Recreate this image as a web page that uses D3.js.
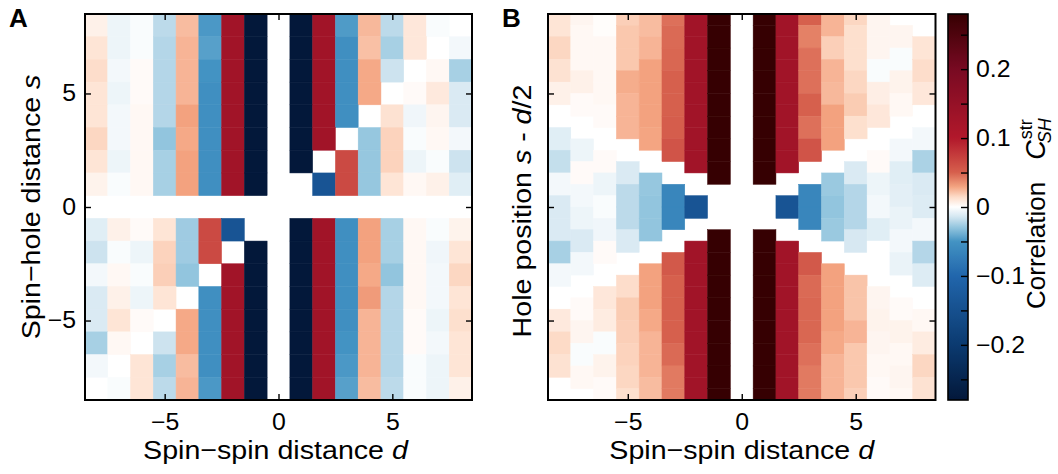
<!DOCTYPE html>
<html><head><meta charset="utf-8">
<script src="https://cdn.jsdelivr.net/npm/d3@7"></script>
<style>
body{margin:0;background:#fff}
svg{display:block}
text{font-family:"Liberation Sans",Arial,Helvetica,sans-serif;fill:#000}
</style>
</head><body>
<svg id="c" width="1058" height="474"></svg>
<script>
// ---------------- data ----------------
const dValues = d3.range(-8, 9);            // spin-spin distance d (columns)
const sValuesA = d3.range(8, -9, -1);       // spin-hole distance s (rows, top to bottom)
const axisTicks = [-5, 0, 5];
const cbarMajor = [-0.2, -0.1, 0, 0.1, 0.2];
const cbarMinor = [-0.25, -0.15, -0.05, 0.05, 0.15, 0.25];
const cbarRange = [-0.28, 0.28];

// Panel A: rows s = 8 .. -8, columns d = -8 .. 8 (null = not defined)
const corrA = [
 [0.006,-0.006,-0.002,-0.02,0.023,-0.048,0.13,-0.3,null,-0.3,0.13,-0.047,0.024,-0.02,0.01,-0.002,null],
 [0.011,-0.006,-0.002,-0.022,0.025,-0.045,0.13,-0.3,null,-0.3,0.13,-0.055,0.022,-0.025,0.01,null,-0.004],
 [0.014,-0.004,0.002,-0.022,0.025,-0.05,0.13,-0.3,null,-0.3,0.13,-0.055,0.028,-0.016,null,0.003,-0.025],
 [0.011,-0.006,0.002,-0.022,0.025,-0.055,0.13,-0.3,null,-0.3,0.13,-0.055,0.028,null,0.002,0.009,-0.012],
 [0.011,-0.004,0.003,-0.022,0.03,-0.055,0.13,-0.3,null,-0.3,0.13,-0.055,null,0.012,-0.005,0.004,-0.012],
 [0.016,-0.004,0.003,-0.03,0.028,-0.055,0.13,-0.3,null,-0.3,0.13,null,-0.029,0.017,-0.002,0.003,-0.004],
 [0.011,-0.006,0.003,-0.025,0.03,-0.055,0.13,-0.3,null,-0.3,null,0.065,-0.029,0.017,-0.006,-0.002,-0.016],
 [0.005,-0.002,0.003,-0.025,0.03,-0.055,0.13,-0.3,null,null,-0.14,0.065,-0.029,0.011,0.003,0.006,-0.01],
 [null,null,null,null,null,null,null,null,null,null,null,null,null,null,null,null,null],
 [-0.01,0.006,0.002,0.011,-0.027,0.065,-0.14,null,null,-0.3,0.13,-0.055,0.03,-0.025,0.003,-0.002,0.005],
 [-0.016,-0.002,-0.006,0.017,-0.027,0.065,null,-0.3,null,-0.3,0.13,-0.055,0.03,-0.025,0.003,-0.005,0.011],
 [-0.004,0.003,-0.002,0.018,-0.03,null,0.13,-0.3,null,-0.3,0.13,-0.055,0.028,-0.03,0.003,-0.004,0.016],
 [-0.012,0.006,-0.006,0.011,null,-0.055,0.13,-0.3,null,-0.3,0.13,-0.055,0.032,-0.022,0.003,-0.004,0.011],
 [-0.012,0.011,0.002,null,0.028,-0.055,0.13,-0.3,null,-0.3,0.13,-0.055,0.025,-0.022,0.002,-0.006,0.013],
 [-0.025,0.003,null,-0.016,0.028,-0.055,0.13,-0.3,null,-0.3,0.13,-0.05,0.025,-0.022,0.002,-0.004,0.011],
 [-0.004,null,0.011,-0.025,0.023,-0.055,0.13,-0.3,null,-0.3,0.13,-0.048,0.025,-0.022,-0.002,-0.006,0.011],
 [null,-0.002,0.011,-0.02,0.025,-0.048,0.13,-0.3,null,-0.3,0.13,-0.045,0.023,-0.02,-0.002,-0.006,0.006]
];

// Panel B: one list per column d = -8 .. 8, values from top to bottom.
// even d: hole position s - d/2 = 8, 7, ..., -8 ; odd d: 8.5, 7.5, ..., -8.5
const corrB = [
 [0.011,0.016,0.012,0.006,null,-0.01,-0.018,-0.004,-0.012,-0.012,-0.025,-0.004,null,0.009,0.015,0.012,null],
 [0.004,0.003,0.003,0.006,0.002,null,-0.006,0.002,-0.004,-0.006,-0.012,-0.004,null,0.002,0.004,-0.002,0.003,null],
 [0.001,0.003,0.003,0.003,0.002,null,0.002,-0.006,-0.002,-0.005,0.002,null,0.01,0.008,-0.002,0.005,0.002],
 [0.018,0.02,0.02,0.027,0.025,0.025,null,-0.012,-0.02,-0.02,-0.012,null,0.014,0.019,0.018,0.017,0.016,0.013],
 [0.023,0.025,0.03,0.03,0.03,0.029,null,-0.029,-0.03,-0.03,null,0.03,0.03,0.028,0.025,0.025,0.023],
 [0.045,0.047,0.048,0.05,0.05,0.052,0.058,null,-0.065,-0.065,null,0.055,0.05,0.05,0.05,0.047,0.042,0.042],
 [0.13,0.13,0.13,0.13,0.13,0.13,0.13,null,-0.14,null,0.13,0.13,0.13,0.13,0.13,0.13,0.13],
 [0.3,0.3,0.3,0.3,0.3,0.3,0.3,0.3,null,null,0.3,0.3,0.3,0.3,0.3,0.3,0.3,0.3],
 [null,null,null,null,null,null,null,null,null,null,null,null,null,null,null,null,null],
 [0.3,0.3,0.3,0.3,0.3,0.3,0.3,0.3,null,null,0.3,0.3,0.3,0.3,0.3,0.3,0.3,0.3],
 [0.13,0.13,0.13,0.13,0.13,0.13,0.13,null,-0.14,null,0.13,0.13,0.13,0.13,0.13,0.13,0.13],
 [0.05,0.04,0.045,0.045,0.05,0.045,0.058,null,-0.065,-0.065,null,0.055,0.047,0.048,0.048,0.045,0.042,0.042],
 [0.025,0.018,0.025,0.024,0.03,0.03,null,-0.028,-0.03,-0.028,null,0.03,0.03,0.03,0.028,0.025,0.025],
 [0.016,0.013,0.013,0.016,0.019,0.013,null,-0.012,-0.022,-0.022,-0.013,null,0.021,0.021,0.025,0.02,0.02,0.018],
 [0.004,0.004,-0.002,0.007,0.01,null,0.002,-0.006,-0.004,-0.01,0.0,null,0.004,0.005,0.004,0.003,0.002],
 [null,0.004,-0.002,0.005,0.003,null,-0.004,-0.01,-0.009,-0.007,-0.004,-0.007,null,0.002,0.005,0.003,0.004,0.003],
 [null,0.011,0.014,0.01,null,-0.004,-0.024,-0.012,-0.011,-0.004,-0.022,-0.011,null,0.003,0.008,0.016,0.012]
];

// colour map (diverging red-blue, saturating at the colour-bar ends)
const colorDomain = [-0.28,-0.2,-0.1,-0.05,-0.03,-0.015,0,0.015,0.029,0.05,0.1,0.2,0.28];
const colorRange  = ["#03183a","#0b3a70","#2166ac","#4393c3","#92c5de","#d1e5f0","#ffffff",
                     "#fddbc7","#f4a582","#d6604d","#b2182b","#780a22","#360002"];

// ---------------- drawing ----------------
const svg = d3.select("#c");
const color = d3.scaleLinear().domain(colorDomain).range(colorRange)
  .interpolate(d3.interpolateRgb).clamp(true);

const PA = {left: 85, right: 472, top: 14, bottom: 400};
const PB = {left: 548, right: 935.5, top: 14, bottom: 400};
const CB = {left: 948, right: 968, top: 14, bottom: 400};
const TEXT_K = 1.08;

const fmt = v => (v < 0 ? "\u2212" : "") + Math.abs(v);
const fmtC = v => v === 0 ? "0" : (v < 0 ? "\u2212" : "") + Math.abs(v).toFixed(1);

function stretch(sel, k) {
  sel.each(function () {
    const L = this.getComputedTextLength();
    if (L > 0) d3.select(this).attr("textLength", L * k).attr("lengthAdjust", "spacingAndGlyphs");
  });
}

function styleAxis(g) {
  g.select(".domain").remove();
  g.selectAll(".tick line").attr("stroke", "#000").attr("stroke-width", 1.4);
  g.selectAll(".tick text").attr("fill", "#000").style("font-size", "23px")
    .style("font-family", '"Liberation Sans",Arial,sans-serif');
  g.attr("font-family", null).attr("font-size", null);
  stretch(g.selectAll(".tick text"), TEXT_K);
}

function frame(P, x, y, showY) {
  const g = svg.append("g");
  g.append("g").attr("transform", `translate(0,${P.bottom})`)
    .call(d3.axisBottom(x).tickValues(axisTicks).tickSize(-6).tickPadding(14).tickFormat(fmt)).call(styleAxis);
  g.append("g").attr("transform", `translate(0,${P.top})`)
    .call(d3.axisTop(x).tickValues(axisTicks).tickSize(-6).tickFormat("")).call(styleAxis);
  g.append("g").attr("transform", `translate(${P.left},0)`)
    .call(d3.axisLeft(y).tickValues(axisTicks).tickSize(-6).tickPadding(9).tickFormat(showY ? fmt : "")).call(styleAxis);
  g.append("g").attr("transform", `translate(${P.right},0)`)
    .call(d3.axisRight(y).tickValues(axisTicks).tickSize(-6).tickFormat("")).call(styleAxis);
  g.append("rect").attr("x", P.left).attr("y", P.top)
    .attr("width", P.right - P.left).attr("height", P.bottom - P.top)
    .attr("fill", "none").attr("stroke", "#000").attr("stroke-width", 2);
}

// ---- Panel A ----
const xA = d3.scaleLinear().domain([-8.5, 8.5]).range([PA.left, PA.right]);
const yA = d3.scaleLinear().domain([-8.5, 8.5]).range([PA.bottom, PA.top]);
const cellsA = [];
corrA.forEach((row, i) => row.forEach((v, j) => {
  if (v !== null) cellsA.push({d: dValues[j], s: sValuesA[i], v});
}));
svg.append("g").selectAll("rect").data(cellsA).join("rect")
  .attr("x", c => xA(c.d - 0.5)).attr("y", c => yA(c.s + 0.5))
  .attr("width", c => xA(c.d + 0.5) - xA(c.d - 0.5))
  .attr("height", c => yA(c.s - 0.5) - yA(c.s + 0.5))
  .attr("fill", c => color(c.v)).attr("stroke", c => color(c.v)).attr("stroke-width", 0.5);
frame(PA, xA, yA, true);

// ---- Panel B ----
const xB = d3.scaleLinear().domain([-8.5, 8.5]).range([PB.left, PB.right]);
const yB = d3.scaleLinear().domain([-8.5, 8.5]).range([PB.bottom, PB.top]);
svg.append("clipPath").attr("id", "clipB").append("rect")
  .attr("x", PB.left).attr("y", PB.top).attr("width", PB.right - PB.left).attr("height", PB.bottom - PB.top);
const cellsB = [];
corrB.forEach((col, j) => {
  const d = dValues[j];
  const top = Math.abs(d) % 2 === 0 ? 8 : 8.5;
  col.forEach((v, k) => { if (v !== null) cellsB.push({d, h: top - k, v}); });
});
svg.append("g").attr("clip-path", "url(#clipB)").selectAll("rect").data(cellsB).join("rect")
  .attr("x", c => xB(c.d - 0.5)).attr("y", c => yB(c.h + 0.5))
  .attr("width", c => xB(c.d + 0.5) - xB(c.d - 0.5))
  .attr("height", c => yB(c.h - 0.5) - yB(c.h + 0.5))
  .attr("fill", c => color(c.v)).attr("stroke", c => color(c.v)).attr("stroke-width", 0.5);
frame(PB, xB, yB, false);

// ---- colour bar ----
const yC = d3.scaleLinear().domain(cbarRange).range([CB.bottom, CB.top]);
const grad = svg.append("defs").append("linearGradient").attr("id", "cbg")
  .attr("x1", 0).attr("y1", 1).attr("x2", 0).attr("y2", 0);
d3.range(0, 1.0001, 0.005).forEach(t => {
  grad.append("stop").attr("offset", t).attr("stop-color", color(cbarRange[0] + t * (cbarRange[1] - cbarRange[0])));
});
svg.append("rect").attr("x", CB.left).attr("y", CB.top).attr("width", CB.right - CB.left)
  .attr("height", CB.bottom - CB.top).attr("fill", "url(#cbg)");
svg.append("g").attr("transform", `translate(${CB.right},0)`)
  .call(d3.axisRight(yC).tickValues(cbarMajor).tickSize(-7).tickPadding(8).tickFormat(fmtC)).call(styleAxis);
svg.append("g").attr("transform", `translate(${CB.right},0)`)
  .call(d3.axisRight(yC).tickValues(cbarMinor).tickSize(-7).tickFormat("")).call(styleAxis);
svg.append("rect").attr("x", CB.left).attr("y", CB.top).attr("width", CB.right - CB.left)
  .attr("height", CB.bottom - CB.top).attr("fill", "none").attr("stroke", "#000").attr("stroke-width", 1.6);

// ---- labels ----
svg.append("text").attr("x", 9).attr("y", 27).attr("font-weight", "bold").style("font-size", "26px").text("A");
svg.append("text").attr("x", 502).attr("y", 27).attr("font-weight", "bold").style("font-size", "26px").text("B");

function xLabel(cx) {
  const t = svg.append("text").attr("x", cx).attr("y", 459).attr("text-anchor", "middle").style("font-size", "26px");
  t.append("tspan").text("Spin\u2212spin distance ");
  t.append("tspan").attr("font-style", "italic").text("d");
  return t;
}
stretch(xLabel((PA.left + PA.right) / 2 - 3), 1.1);
stretch(xLabel((PB.left + PB.right) / 2), 1.1);

const yl = svg.append("text").attr("transform", `translate(40,${(PA.top + PA.bottom) / 2}) rotate(-90)`)
  .attr("text-anchor", "middle").style("font-size", "26px");
yl.append("tspan").text("Spin\u2212hole distance ");
yl.append("tspan").attr("font-style", "italic").text("s");
stretch(yl, 1.1);

const yl2 = svg.append("text").attr("transform", `translate(531,${(PB.top + PB.bottom) / 2 + 4}) rotate(-90)`)
  .attr("text-anchor", "middle").style("font-size", "26px");
yl2.append("tspan").text("Hole position ");
yl2.append("tspan").attr("font-style", "italic").text("s");
yl2.append("tspan").text(" - ");
yl2.append("tspan").attr("font-style", "italic").text("d");
yl2.append("tspan").text("/2");
stretch(yl2, 1.1);

// colour-bar label: "Correlation  C_SH^str"
const cg = svg.append("g").attr("transform", "translate(1045,309) rotate(-90)");
const ct = cg.append("text").attr("x", 0).attr("y", 0).style("font-size", "26px").text("Correlation");
const L1 = ct.node().getComputedTextLength();
const cC = cg.append("text").attr("x", L1 + 22).attr("y", 0).attr("font-style", "italic")
  .style("font-size", "27px").text("C");
const Lc = cC.node().getComputedTextLength();
cg.append("text").attr("x", L1 + 22 + Lc - 3).attr("y", 6).attr("font-style", "italic")
  .style("font-size", "18px").text("SH");
cg.append("text").attr("x", L1 + 22 + Lc + 1).attr("y", -13).style("font-size", "18px").text("str");
</script>
</body></html>
